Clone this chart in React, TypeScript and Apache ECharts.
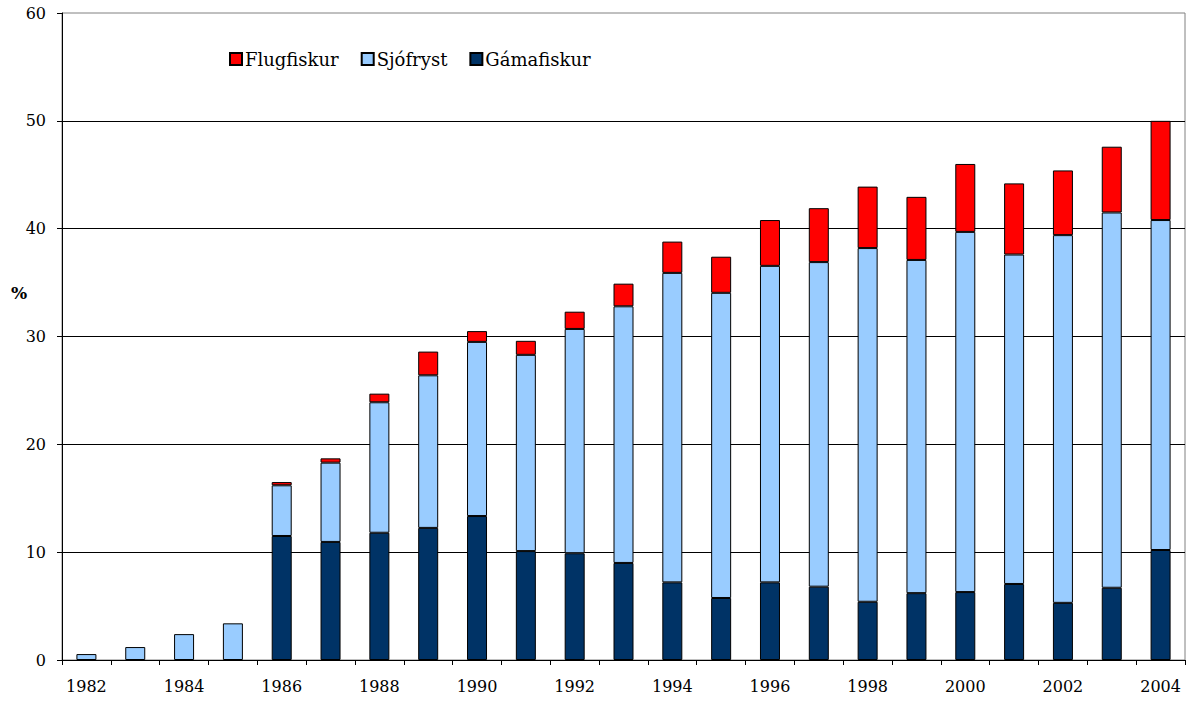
import React, { useEffect, useRef } from "react";
import * as echarts from "echarts";

const years = ["1982","1983","1984","1985","1986","1987","1988","1989","1990","1991","1992","1993","1994","1995","1996","1997","1998","1999","2000","2001","2002","2003","2004"];
const gamafiskur = [null, null, null, null, 11.5, 10.95, 11.8, 12.25, 13.35, 10.1, 9.9, 9.0, 7.2, 5.75, 7.2, 6.8, 5.4, 6.2, 6.3, 7.05, 5.3, 6.7, 10.2];
const sjofryst = [0.55, 1.2, 2.4, 3.4, 4.7, 7.35, 12.1, 14.15, 16.15, 18.2, 20.8, 23.8, 28.7, 28.3, 29.35, 30.1, 32.8, 30.9, 33.4, 30.55, 34.1, 34.8, 30.6];
const flugfiskur = [null, null, null, null, 0.3, 0.4, 0.8, 2.2, 1.0, 1.3, 1.6, 2.1, 2.9, 3.35, 4.25, 5.0, 5.7, 5.85, 6.3, 6.6, 6.0, 6.1, 9.2];

const FONT = "DejaVu Serif";

export default function App() {
  const ref = useRef<HTMLDivElement>(null);
  useEffect(() => {
    if (!ref.current) return;
    const chart = echarts.init(ref.current, null, { renderer: "svg" });
    const barStyle = (color: string) => ({ color, borderColor: "#000", borderWidth: 1 });
    chart.setOption({
      animation: false,
      backgroundColor: "#fff",
      textStyle: { fontFamily: FONT },
      grid: { left: 62, right: 4, top: 13, bottom: 42, show: true, borderColor: "#808080", borderWidth: 1, containLabel: false },
      legend: {
        data: ["Flugfiskur", "Sjófryst", "Gámafiskur"],
        left: 229,
        top: 50,
        padding: 0,
        itemWidth: 12,
        itemHeight: 12,
        itemGap: 22,
        textStyle: { fontFamily: FONT, fontSize: 18, color: "#000", padding: [0, 0, 0, -2] },
        icon: "rect",
      },
      xAxis: {
        type: "category",
        data: years,
        axisLine: { lineStyle: { color: "#000", width: 1 } },
        axisTick: { show: true, interval: 0, length: 5, lineStyle: { color: "#000" } },
        axisLabel: { interval: 1, fontFamily: FONT, fontSize: 16, color: "#000", margin: 18 },
        splitLine: { show: false },
      },
      yAxis: {
        type: "value",
        min: 0,
        max: 60,
        interval: 10,
        axisLine: { show: true, lineStyle: { color: "#000", width: 1 } },
        axisTick: { show: true, length: 5, lineStyle: { color: "#000" } },
        axisLabel: { fontFamily: FONT, fontSize: 16, color: "#000", margin: 16 },
        splitLine: { show: true, showMaxLine: false, lineStyle: { color: "#000", width: 1 } },
      },
      graphic: [
        { type: "text", left: 11, top: 284, style: { text: "%", font: `bold 17px ${FONT}`, fill: "#000" } },
      ],
      series: [
        { name: "Gámafiskur", type: "bar", stack: "s", data: gamafiskur, barWidth: 20, itemStyle: barStyle("#003366") },
        { name: "Sjófryst", type: "bar", stack: "s", data: sjofryst, barWidth: 20, itemStyle: barStyle("#99CCFF") },
        { name: "Flugfiskur", type: "bar", stack: "s", data: flugfiskur, barWidth: 20, itemStyle: barStyle("#FF0000") },
      ],
    });
    return () => chart.dispose();
  }, []);
  return <div ref={ref} style={{ width: 1189, height: 702, position: "absolute", left: 0, top: 0 }} />;
}
